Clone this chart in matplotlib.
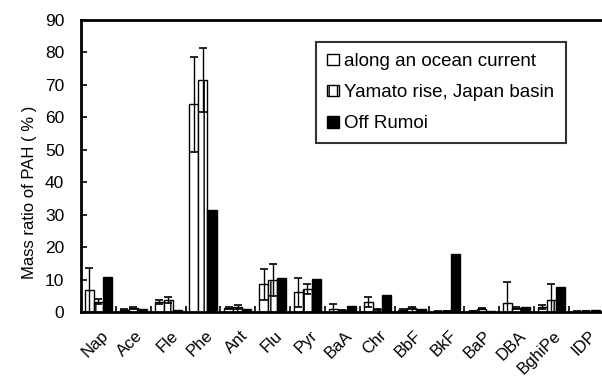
import matplotlib.pyplot as plt
import matplotlib.transforms as mtransforms
import numpy as np

plt.rcParams['font.family'] = ['Liberation Sans', 'DejaVu Sans']

compounds = ["Nap", "Ace", "Fle", "Phe", "Ant", "Flu", "Pyr", "BaA",
             "Chr", "BbF", "BkF", "BaP", "DBA", "BghiPe", "IDP"]

# mass ratio (%) and standard deviation per site
ocean_current = [6.8, 0.5, 3.2, 64.0, 1.2, 8.5, 6.1, 1.0, 3.2, 0.6, 0.2, 0.3, 2.7, 1.6, 0.2]
ocean_current_sd = [6.7, 0.3, 0.6, 14.6, 0.4, 4.8, 4.5, 1.5, 1.5, 0.3, 0.1, 0.1, 6.6, 0.5, 0.1]
yamato = [3.2, 1.2, 3.8, 71.5, 1.6, 9.9, 7.0, 0.5, 0.8, 1.3, 0.3, 1.0, 1.3, 3.7, 0.3]
yamato_sd = [0.8, 0.3, 0.9, 9.8, 0.6, 4.8, 1.5, 0.2, 0.3, 0.4, 0.1, 0.2, 0.4, 4.8, 0.1]
off_rumoi = [10.9, 1.0, 0.5, 31.3, 0.8, 10.4, 10.2, 1.8, 5.2, 0.8, 17.9, 0.3, 1.7, 7.8, 0.5]

x = np.arange(len(compounds))
w = 0.26

fig = plt.figure(figsize=(6.02, 3.76), dpi=100)
ax = fig.add_axes([0.1346, 0.170, 0.868, 0.777])

err_kw = dict(ecolor="black", elinewidth=1.0, capsize=3, capthick=1.2)
ax.bar(x - w, ocean_current, w, yerr=ocean_current_sd, color="white",
       edgecolor="black", linewidth=1.0, error_kw=err_kw,
       label="along an ocean current")
ax.bar(x, yamato, w, yerr=yamato_sd, color="white", edgecolor="black",
       linewidth=1.0, hatch="||", error_kw=err_kw,
       label="Yamato rise, Japan basin")
ax.bar(x + w, off_rumoi, w, color="black", edgecolor="black",
       linewidth=1.0, label="Off Rumoi")

ax.set_xlim(-0.5, len(compounds) - 0.5)
ax.set_ylim(0, 90)
ax.set_yticks(range(0, 91, 10))
ax.tick_params(axis="y", direction="in", length=4, width=1.2, labelsize=12.5, pad=12)

# category boundary ticks on the x axis, labels at the centers
ax.set_xticks(x)
ax.set_xticklabels(compounds, rotation=45, ha="right", va="top",
                   rotation_mode="anchor", fontsize=12)
ax.tick_params(axis="x", length=0, pad=7)
shift = mtransforms.ScaledTranslation(0.02, -0.06, fig.dpi_scale_trans)
for lab in ax.get_xticklabels():
    lab.set_transform(lab.get_transform() + shift)
ax.set_xticks(np.arange(-0.5, len(compounds)), minor=True)
ax.tick_params(axis="x", which="minor", direction="in", length=4, width=1.2)

for side in ["left", "bottom", "top", "right"]:
    ax.spines[side].set_linewidth(2)

ax.set_ylabel("Mass ratio of PAH ( % )", fontsize=12)
ax.yaxis.set_label_coords(-0.085, 0.41)

leg = ax.legend(loc="upper left", bbox_to_anchor=(0.45, 0.925), fontsize=13.5,
                frameon=True, fancybox=False, handlelength=0.6,
                handleheight=0.6, handletextpad=0.3, labelspacing=0.75,
                borderpad=0.6, borderaxespad=0)
leg.get_frame().set_edgecolor("black")
leg.get_frame().set_linewidth(1.5)

fig.savefig("out.png", dpi=100)
